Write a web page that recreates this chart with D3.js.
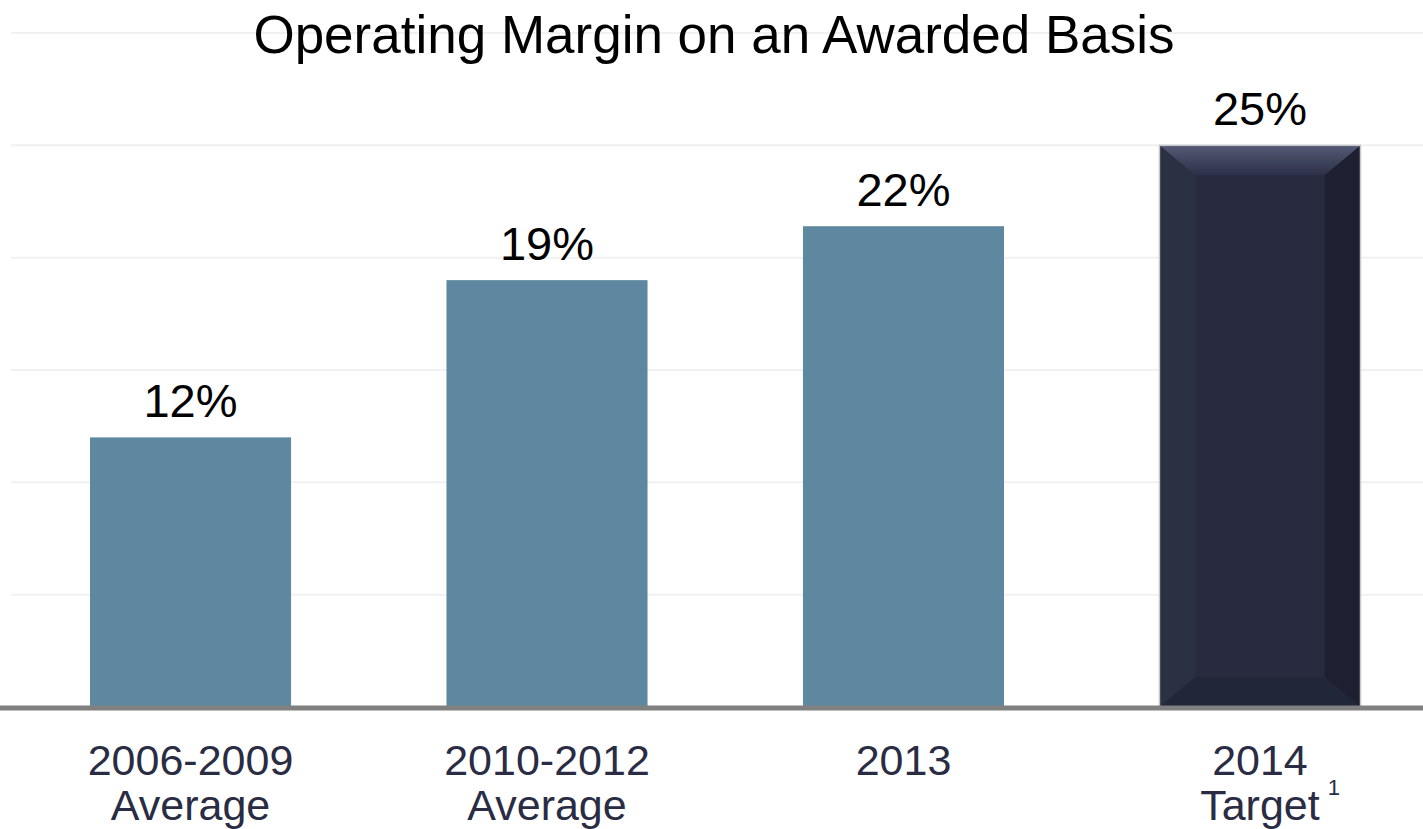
<!DOCTYPE html>
<html><head><meta charset="utf-8">
<script src="https://cdn.jsdelivr.net/npm/d3@7"></script>
<style>body{margin:0;background:#fff;}svg{display:block;font-family:"Liberation Sans",Arial,sans-serif;}</style>
</head><body>
<svg id="c" width="1423" height="829"></svg>
<script>
const categories = ["2006-2009|Average", "2010-2012|Average", "2013", "2014|Target"];
const values = [12, 19, 21.4, 25];
const valueLabels = ["12%", "19%", "22%", "25%"];
const gridTicks = [5, 10, 15, 20, 25, 30];
const title = "Operating Margin on an Awarded Basis";

const svg = d3.select("#c");
const W = 1423, H = 829;
const y = d3.scaleLinear().domain([0, 30]).range([707, 33]);
const x = d3.scaleBand().domain(categories).range([11, 1439.5]).paddingInner(0.436).paddingOuter(0.2216);

const defs = svg.append("defs");
const gTop = defs.append("linearGradient").attr("id","gtop").attr("x1",0).attr("y1",0).attr("x2",0).attr("y2",1);
gTop.append("stop").attr("offset","0%").attr("stop-color","#555b75");
gTop.append("stop").attr("offset","100%").attr("stop-color","#2c3048");

// gridlines
svg.append("g").selectAll("line").data(gridTicks).join("line")
  .attr("x1", 11).attr("x2", W).attr("y1", d => y(d)).attr("y2", d => y(d))
  .attr("stroke", "#f1f1f1").attr("stroke-width", 2);

// title
svg.append("text").attr("x", 714).attr("y", 53).attr("text-anchor","middle")
  .attr("font-size", 53).attr("fill","#000").text(title);

// bars
const bars = svg.append("g");
categories.forEach((c, i) => {
  const x0 = x(c), w = x.bandwidth(), y0 = y(values[i]), y1 = y(0);
  if (i < 3) {
    bars.append("rect").attr("x", x0).attr("y", y0).attr("width", w).attr("height", y1 - y0).attr("fill", "#5e87a0");
  } else {
    const b = 36, bt = 30, bb = 30;
    const g = bars.append("g");
    g.append("rect").attr("x", x0).attr("y", y0).attr("width", w).attr("height", y1 - y0).attr("fill", "#282a40");
    g.append("path").attr("d", `M${x0},${y0}L${x0+b},${y0+bt}L${x0+b},${y1-bb}L${x0},${y1}Z`).attr("fill","#2b3142");
    g.append("path").attr("d", `M${x0+w},${y0}L${x0+w-b},${y0+bt}L${x0+w-b},${y1-bb}L${x0+w},${y1}Z`).attr("fill","#1e2032");
    g.append("path").attr("d", `M${x0},${y0}L${x0+w},${y0}L${x0+w-b},${y0+bt}L${x0+b},${y0+bt}Z`).attr("fill","url(#gtop)");
    g.append("path").attr("d", `M${x0},${y1}L${x0+w},${y1}L${x0+w-b},${y1-bb}L${x0+b},${y1-bb}Z`).attr("fill","#212739");
    g.append("rect").attr("x", x0).attr("y", y0).attr("width", w).attr("height", y1 - y0)
      .attr("fill","none").attr("stroke","#c8c8cc").attr("stroke-width",1.5);
  }
});

// baseline
svg.append("line").attr("x1", 0).attr("x2", W).attr("y1", y(0)+1).attr("y2", y(0)+1)
  .attr("stroke", "#808080").attr("stroke-width", 5);

// value labels
svg.append("g").selectAll("text").data(categories).join("text")
  .attr("x", d => x(d) + x.bandwidth()/2)
  .attr("y", (d,i) => y(values[i]) - 20)
  .attr("text-anchor","middle").attr("font-size", 47).attr("fill","#000")
  .text((d,i) => valueLabels[i]);

// category labels
const cl = svg.append("g");
categories.forEach((c, i) => {
  const lines = c.split("|");
  const cx = x(c) + x.bandwidth()/2;
  lines.forEach((ln, j) => {
    const t = cl.append("text").attr("x", cx).attr("y", 775 + j*45)
      .attr("text-anchor","middle").attr("font-size", 43).attr("fill","#2a2c44").text(ln);
    if (i === 3 && j === 1) {
      const bb = t.node().getBBox();
      cl.append("text").attr("x", bb.x + bb.width + 8).attr("y", 795)
        .attr("font-size", 22).attr("fill","#2a2c44").text("1");
    }
  });
});
</script>
</body></html>
